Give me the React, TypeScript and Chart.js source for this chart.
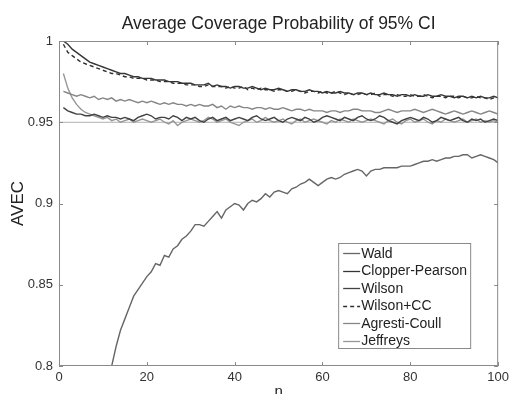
import React, { useEffect, useRef } from "react";
import { Chart, registerables } from "chart.js";

Chart.register(...registerables);

const TITLE = "Average Coverage Probability of 95% CI";
const X_TITLE = "n";
const Y_TITLE = "AVEC";
const NOMINAL = 0.95;

const N = [
  1, 2, 3, 4, 5, 6, 7, 8, 9, 10, 11, 12, 13, 14, 15, 16, 17, 18, 19, 20,
  21, 22, 23, 24, 25, 26, 27, 28, 29, 30, 31, 32, 33, 34, 35, 36, 37, 38, 39, 40,
  41, 42, 43, 44, 45, 46, 47, 48, 49, 50, 51, 52, 53, 54, 55, 56, 57, 58, 59, 60,
  61, 62, 63, 64, 65, 66, 67, 68, 69, 70, 71, 72, 73, 74, 75, 76, 77, 78, 79, 80,
  81, 82, 83, 84, 85, 86, 87, 88, 89, 90, 91, 92, 93, 94, 95, 96, 97, 98, 99, 100,
];

const WALD = [
  0.30, 0.42, 0.51, 0.57, 0.62, 0.66, 0.70, 0.725, 0.75, 0.768,
  0.786, 0.800, 0.812, 0.822, 0.829, 0.836, 0.843, 0.847, 0.851, 0.855,
  0.858, 0.863, 0.862, 0.868, 0.867, 0.872, 0.874, 0.878, 0.880, 0.883,
  0.887, 0.887, 0.886, 0.889, 0.892, 0.895, 0.891, 0.896, 0.898, 0.900,
  0.899, 0.896, 0.900, 0.902, 0.901, 0.903, 0.906, 0.904, 0.907, 0.908,
  0.907, 0.906, 0.909, 0.910, 0.912, 0.913, 0.915, 0.913, 0.911, 0.913,
  0.915, 0.916, 0.915, 0.916, 0.918, 0.919, 0.920, 0.921, 0.920, 0.917,
  0.920, 0.921, 0.921, 0.922, 0.922, 0.922, 0.922, 0.923, 0.923, 0.923,
  0.924, 0.925, 0.926, 0.926, 0.927, 0.926, 0.927, 0.928, 0.928, 0.929,
  0.929, 0.930, 0.930, 0.928, 0.929, 0.930, 0.929, 0.928, 0.927, 0.925,
];

const CLOPPER_PEARSON = [
  1.000, 0.998, 0.995, 0.993, 0.991, 0.989, 0.987, 0.986, 0.985, 0.984,
  0.983, 0.982, 0.981, 0.980, 0.980, 0.979, 0.978, 0.978, 0.977, 0.977,
  0.977, 0.976, 0.976, 0.976, 0.975, 0.975, 0.975, 0.974, 0.974, 0.974,
  0.973, 0.973, 0.973, 0.974, 0.972, 0.973, 0.972, 0.972, 0.971, 0.972,
  0.972, 0.971, 0.971, 0.972, 0.971, 0.970, 0.971, 0.970, 0.970, 0.971,
  0.970, 0.969, 0.970, 0.970, 0.969, 0.969, 0.970, 0.969, 0.969, 0.968,
  0.969, 0.968, 0.968, 0.969, 0.968, 0.968, 0.967, 0.968, 0.968, 0.967,
  0.968, 0.967, 0.967, 0.968, 0.967, 0.967, 0.966, 0.967, 0.967, 0.966,
  0.967, 0.966, 0.966, 0.967, 0.966, 0.966, 0.967, 0.966, 0.966, 0.965,
  0.966, 0.966, 0.965, 0.966, 0.965, 0.966, 0.965, 0.965, 0.966, 0.965,
];

const WILSON = [
  0.959, 0.957, 0.956, 0.955, 0.955, 0.954, 0.954, 0.955, 0.954, 0.953,
  0.954, 0.953, 0.953, 0.952, 0.953, 0.952, 0.951, 0.953, 0.954, 0.955,
  0.954, 0.952, 0.953, 0.953, 0.952, 0.954, 0.953, 0.951, 0.953, 0.952,
  0.953, 0.951, 0.950, 0.952, 0.953, 0.951, 0.952, 0.953, 0.951, 0.952,
  0.953, 0.952, 0.951, 0.953, 0.954, 0.952, 0.951, 0.952, 0.953, 0.951,
  0.950, 0.952, 0.953, 0.952, 0.951, 0.953, 0.952, 0.950, 0.951, 0.953,
  0.954, 0.953, 0.952, 0.951, 0.953, 0.952, 0.951, 0.953, 0.954, 0.952,
  0.951, 0.952, 0.954, 0.953, 0.951, 0.950, 0.949, 0.951, 0.952, 0.953,
  0.952, 0.951, 0.953, 0.952, 0.950, 0.951, 0.953, 0.952, 0.951, 0.952,
  0.953, 0.951, 0.950, 0.952, 0.951, 0.952, 0.950, 0.951, 0.952, 0.951,
];

const WILSON_CC = [
  0.998, 0.993, 0.991, 0.989, 0.987, 0.986, 0.985, 0.984, 0.983, 0.982,
  0.981, 0.980, 0.980, 0.979, 0.978, 0.978, 0.977, 0.977, 0.977, 0.976,
  0.976, 0.976, 0.975, 0.975, 0.975, 0.974, 0.974, 0.974, 0.973, 0.973,
  0.973, 0.972, 0.972, 0.973, 0.972, 0.972, 0.972, 0.971, 0.972, 0.971,
  0.971, 0.972, 0.970, 0.971, 0.970, 0.971, 0.970, 0.970, 0.969, 0.970,
  0.970, 0.969, 0.969, 0.970, 0.969, 0.968, 0.969, 0.969, 0.968, 0.969,
  0.968, 0.968, 0.969, 0.968, 0.967, 0.968, 0.967, 0.967, 0.968, 0.967,
  0.967, 0.968, 0.966, 0.967, 0.967, 0.966, 0.967, 0.966, 0.966, 0.967,
  0.966, 0.966, 0.967, 0.966, 0.965, 0.966, 0.966, 0.965, 0.966, 0.966,
  0.965, 0.966, 0.965, 0.965, 0.966, 0.965, 0.965, 0.964, 0.965, 0.965,
];

const AGRESTI_COULL = [
  0.969, 0.968, 0.967, 0.966, 0.967, 0.966, 0.965, 0.966, 0.964, 0.965,
  0.964, 0.965, 0.963, 0.964, 0.963, 0.964, 0.963, 0.962, 0.963, 0.962,
  0.963, 0.962, 0.961, 0.962, 0.961, 0.962, 0.961, 0.961, 0.960, 0.961,
  0.960, 0.961, 0.960, 0.960, 0.961, 0.959, 0.960, 0.958, 0.960, 0.959,
  0.960, 0.959, 0.959, 0.958, 0.959, 0.959, 0.958, 0.959, 0.958, 0.958,
  0.959, 0.958, 0.957, 0.958, 0.958, 0.957, 0.958, 0.957, 0.957, 0.957,
  0.956, 0.957, 0.957, 0.956, 0.957, 0.957, 0.958, 0.958, 0.957, 0.957,
  0.957, 0.956, 0.956, 0.957, 0.958, 0.957, 0.956, 0.957, 0.957, 0.957,
  0.958, 0.957, 0.956, 0.957, 0.958, 0.957, 0.956, 0.955, 0.956, 0.957,
  0.956, 0.955, 0.956, 0.957, 0.956, 0.955, 0.956, 0.957, 0.956, 0.955,
];

const JEFFREYS = [
  0.980, 0.971, 0.965, 0.961, 0.958, 0.956, 0.955, 0.954, 0.953, 0.952,
  0.953, 0.951, 0.952, 0.950, 0.951, 0.952, 0.950, 0.951, 0.952, 0.951,
  0.950, 0.951, 0.952, 0.950, 0.949, 0.951, 0.948, 0.950, 0.951, 0.952,
  0.951, 0.950, 0.951, 0.953, 0.952, 0.950, 0.951, 0.952, 0.950, 0.949,
  0.948, 0.950, 0.951, 0.952, 0.950, 0.951, 0.953, 0.951, 0.950, 0.951,
  0.952, 0.950, 0.949, 0.951, 0.952, 0.950, 0.951, 0.952, 0.951, 0.950,
  0.949, 0.951, 0.950, 0.952, 0.951, 0.950, 0.952, 0.951, 0.950, 0.951,
  0.952, 0.951, 0.950, 0.949, 0.951, 0.952, 0.950, 0.949, 0.951, 0.952,
  0.950, 0.951, 0.952, 0.950, 0.949, 0.951, 0.950, 0.952, 0.951, 0.950,
  0.951, 0.952, 0.950, 0.951, 0.952, 0.950, 0.951, 0.950, 0.951, 0.950,
];

const X_TICKS = [0, 20, 40, 60, 80, 100];
const Y_TICKS = [0.8, 0.85, 0.9, 0.95, 1];

const FONT = "'Liberation Sans', Arial, Helvetica, sans-serif";

const toPts = (ys: number[]) => ys.map((y, i) => ({ x: N[i], y }));

const frameAndLegend = {
  id: "frameAndLegend",
  afterDatasetsDraw(chart: any) {
    const { ctx, chartArea: a, scales } = chart;
    const xs = scales.x;
    const ys = scales.y;
    ctx.save();
    ctx.strokeStyle = "#8a8a8a";
    ctx.lineWidth = 1;
    ctx.strokeRect(a.left + 0.5, a.top + 0.5, a.right - a.left - 1, a.bottom - a.top - 1);
    const tl = 4;
    ctx.beginPath();
    X_TICKS.forEach((v) => {
      const px = Math.round(xs.getPixelForValue(v)) + 0.5;
      ctx.moveTo(px, a.bottom);
      ctx.lineTo(px, a.bottom - tl);
      ctx.moveTo(px, a.top);
      ctx.lineTo(px, a.top + tl);
    });
    Y_TICKS.forEach((v) => {
      const py = Math.round(ys.getPixelForValue(v)) + 0.5;
      ctx.moveTo(a.left, py);
      ctx.lineTo(a.left + tl, py);
      ctx.moveTo(a.right, py);
      ctx.lineTo(a.right - tl, py);
    });
    ctx.stroke();

    const items = chart.data.datasets.filter((d: any) => d.showInLegend);
    const bx = a.right - 160;
    const by = a.bottom - 123;
    const bw = 132;
    const rowH = 17.5;
    const bh = 105;
    ctx.fillStyle = "#ffffff";
    ctx.fillRect(bx, by, bw, bh);
    ctx.strokeStyle = "#8a8a8a";
    ctx.strokeRect(bx + 0.5, by + 0.5, bw, bh);
    ctx.font = `14px ${FONT}`;
    ctx.textBaseline = "middle";
    ctx.textAlign = "left";
    items.forEach((d: any, i: number) => {
      const cy = by + 10 + i * rowH;
      ctx.beginPath();
      ctx.strokeStyle = d.borderColor;
      ctx.lineWidth = 1.3;
      ctx.setLineDash(d.borderDash || []);
      ctx.moveTo(bx + 5, Math.round(cy) + 0.5);
      ctx.lineTo(bx + 22, Math.round(cy) + 0.5);
      ctx.stroke();
      ctx.setLineDash([]);
      ctx.fillStyle = "#222";
      ctx.fillText(d.label, bx + 23, cy + 1);
    });
    ctx.restore();
  },
};

export default function App() {
  const ref = useRef<HTMLCanvasElement | null>(null);

  useEffect(() => {
    if (!ref.current) return;
    const line = (label: string, ys: number[], color: string, dash?: number[]) => ({
      label,
      data: toPts(ys),
      borderColor: color,
      backgroundColor: color,
      borderWidth: 1.4,
      borderDash: dash || [],
      pointRadius: 0,
      tension: 0,
      showInLegend: true,
    });
    const chart = new Chart(ref.current, {
      type: "line",
      data: {
        datasets: [
          line("Wald", WALD, "#666666"),
          line("Clopper-Pearson", CLOPPER_PEARSON, "#363636"),
          line("Wilson", WILSON, "#424242"),
          line("Wilson+CC", WILSON_CC, "#303030", [4, 3]),
          line("Agresti-Coull", AGRESTI_COULL, "#858585"),
          line("Jeffreys", JEFFREYS, "#969696"),
          {
            label: "",
            data: [
              { x: X_TICKS[0], y: NOMINAL },
              { x: X_TICKS[X_TICKS.length - 1], y: NOMINAL },
            ],
            borderColor: "#b0b0b0",
            borderWidth: 1,
            pointRadius: 0,
            showInLegend: false,
          } as any,
        ] as any,
      },
      options: {
        animation: false,
        responsive: true,
        maintainAspectRatio: false,
        layout: { padding: { left: 0, right: 13, top: 0, bottom: 0 } },
        plugins: {
          legend: { display: false },
          tooltip: { enabled: false },
          title: {
            display: true,
            fullSize: false,
            text: TITLE,
            color: "#222",
            font: { family: FONT, size: 17.5, weight: "normal" },
            padding: { top: 14, bottom: 6 },
          },
        },
        scales: {
          x: {
            type: "linear",
            min: 0,
            max: 100,
            afterFit: (s: any) => {
              s.height = 28;
            },
            afterBuildTicks: (s: any) => {
              s.ticks = X_TICKS.map((v) => ({ value: v }));
            },
            grid: { display: false, drawTicks: false },
            border: { display: false },
            ticks: {
              color: "#333",
              font: { family: FONT, size: 13 },
              padding: 4,
              maxRotation: 0,
              autoSkip: false,
            },
            title: {
              display: true,
              text: X_TITLE,
              color: "#222",
              font: { family: FONT, size: 15 },
              padding: { top: 0, bottom: -7 },
            },
          },
          y: {
            type: "linear",
            min: 0.8,
            max: 1,
            afterFit: (s: any) => {
              s.width = 59;
            },
            afterBuildTicks: (s: any) => {
              s.ticks = Y_TICKS.map((v) => ({ value: v }));
            },
            grid: { display: false, drawTicks: false },
            border: { display: false },
            ticks: {
              color: "#333",
              font: { family: FONT, size: 13 },
              padding: 6,
              autoSkip: false,
              callback: (v: any) => String(Number(v)),
            },
            title: {
              display: true,
              text: Y_TITLE,
              color: "#222",
              font: { family: FONT, size: 17 },
              padding: { top: 8, bottom: 0 },
            },
          },
        },
      } as any,
      plugins: [frameAndLegend],
    });
    return () => chart.destroy();
  }, []);

  return (
    <div style={{ position: "fixed", left: 0, top: 0, width: 513, height: 394, background: "#fff" }}>
      <canvas ref={ref} />
    </div>
  );
}
